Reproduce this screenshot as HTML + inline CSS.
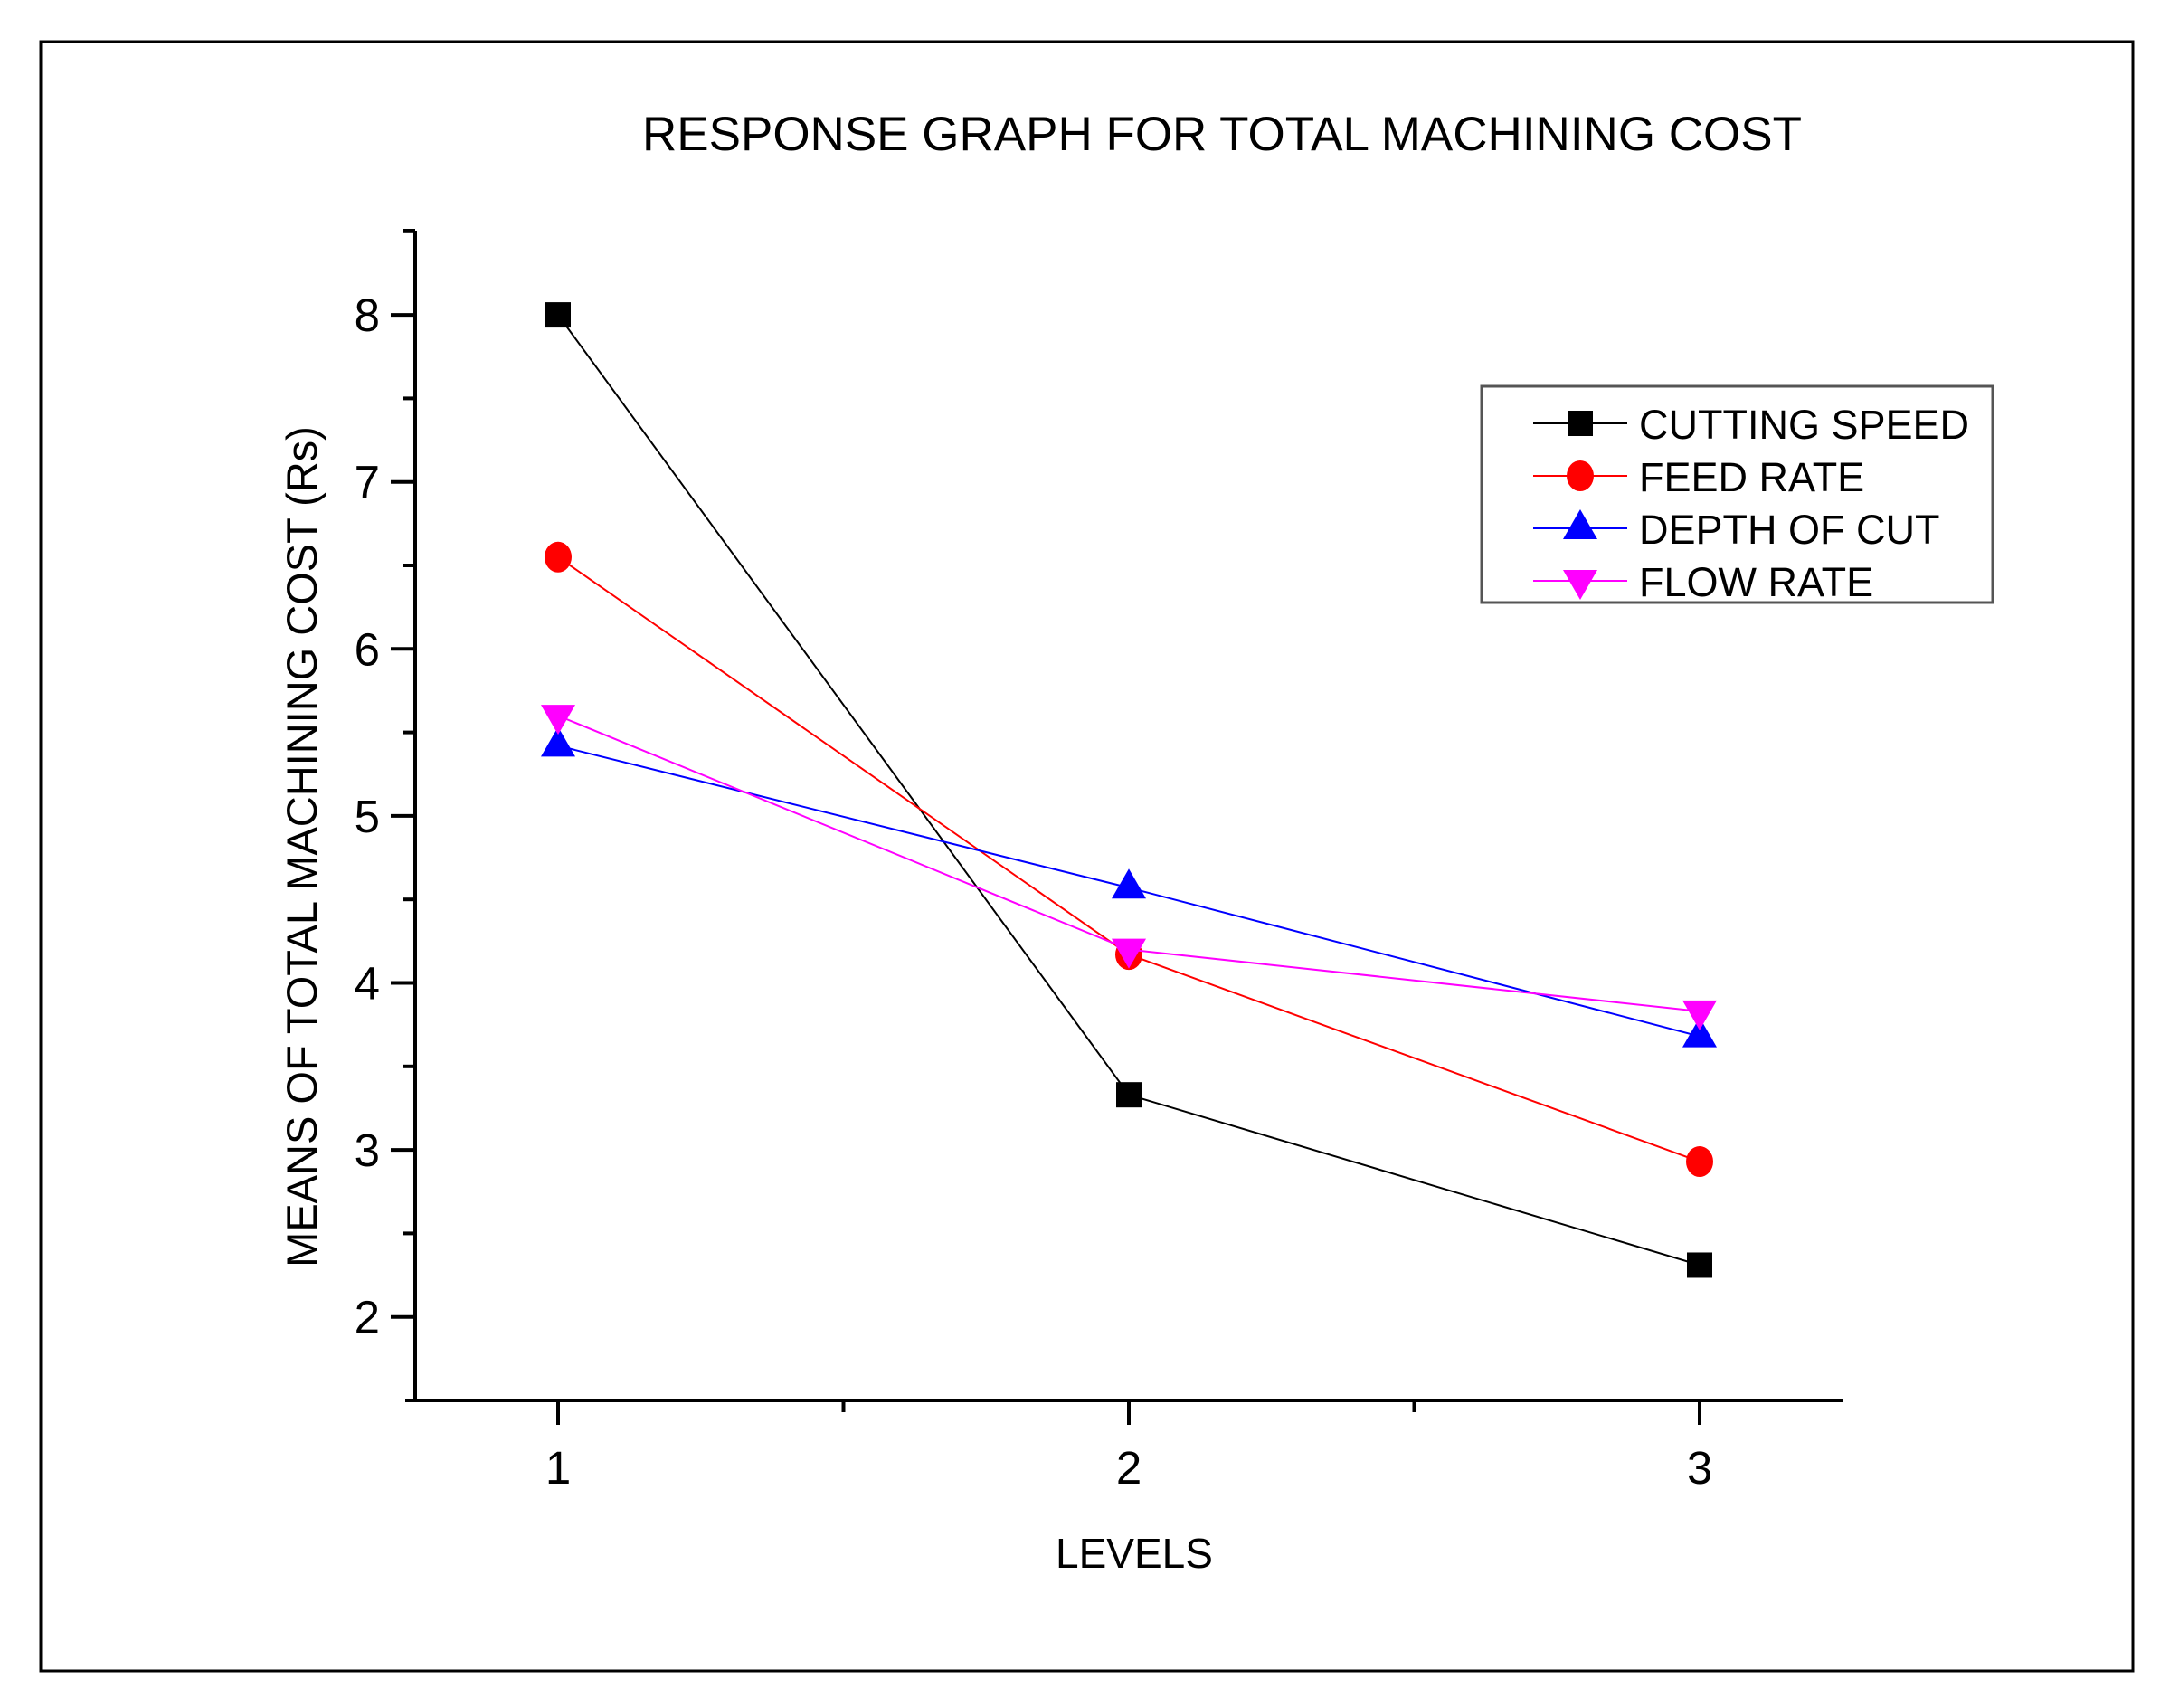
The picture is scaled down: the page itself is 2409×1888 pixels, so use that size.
<!DOCTYPE html>
<html><head><meta charset="utf-8"><style>
html,body{margin:0;padding:0;background:#fff;}
svg{display:block;font-family:"Liberation Sans",Arial,sans-serif;}
</style></head><body>
<svg id="chart" width="2409" height="1888" viewBox="0 0 2409 1888" xmlns="http://www.w3.org/2000/svg">
<rect x="45" y="46" width="2313" height="1801" fill="#fff" stroke="#000" stroke-width="3"/>
<text x="1351" y="166" font-size="53" text-anchor="middle">RESPONSE GRAPH FOR TOTAL MACHINING COST</text>
<g id="axes"></g>
<g id="series"></g>
<g id="legend"></g>
</svg>
<script>
const categories = [1, 2, 3];
const yTicks = [2, 3, 4, 5, 6, 7, 8];
const seriesNames = ["CUTTING SPEED", "FEED RATE", "DEPTH OF CUT", "FLOW RATE"];
const cuttingSpeed = [8.0, 3.33, 2.31];
const feedRate = [6.55, 4.17, 2.93];
const depthOfCut = [5.42, 4.57, 3.68];
const flowRate = [5.60, 4.20, 3.83];

const NS = "http://www.w3.org/2000/svg";
const X0 = 459, X1 = 2037, Y0 = 1548, YT = 255;
function xs(v){ return 617 + (v - 1) * 631; }
function ys(v){ return 1548 - (v - 1.5) * 184.6; }
function mk(tag, attrs, parent){ const e = document.createElementNS(NS, tag); for (const k in attrs) e.setAttribute(k, attrs[k]); parent.appendChild(e); return e; }

const axes = document.getElementById('axes');
let yAxis = mk('line', {x1:X0, y1:YT, x2:X0, y2:Y0+2, stroke:'#000','stroke-width':4}, axes);


let xAxis = mk('line', {x1:448, y1:Y0, x2:X1, y2:Y0, stroke:'#000','stroke-width':4}, axes);


mk('line', {x1:X0-13, y1:YT, x2:X0, y2:YT, stroke:'#000','stroke-width':4}, axes);
for (let v = 1.5; v <= 8.5; v += 0.5) {
  if (v === 1.5) continue;
  const major = Number.isInteger(v);
  const t = mk('line', {x1:X0-(major?27:13), y1:ys(v), x2:X0, y2:ys(v), stroke:'#000','stroke-width':4}, axes);
  
  
}
yTicks.forEach(v => {
  const t = mk('text', {x:420, y:ys(v)+18, 'font-size':51, 'text-anchor':'end'}, axes);
  t.textContent = v;
  
  
});
[1, 1.5, 2, 2.5, 3].forEach(v => {
  const major = Number.isInteger(v);
  const t = mk('line', {x1:xs(v), y1:Y0, x2:xs(v), y2:Y0+(major?27:13), stroke:'#000','stroke-width':4}, axes);
  
  
});
categories.forEach(c => {
  const t = mk('text', {x:xs(c), y:1640, 'font-size':51, 'text-anchor':'middle'}, axes);
  t.textContent = c;
  
  
});
let xt = mk('text', {x:1254, y:1733, 'font-size':46, 'text-anchor':'middle'}, axes);
xt.textContent = 'LEVELS';


let yt = mk('text', {x:0, y:0, 'font-size':47, 'text-anchor':'middle', transform:'translate(350,936) rotate(-90)'}, axes);
yt.textContent = 'MEANS OF TOTAL MACHINING COST (Rs)';



const colors = ['#000', '#ff0000', '#0000ff', '#ff00ff'];
const shapes = ['square', 'circle', 'up', 'down'];
const allSeries = [cuttingSpeed, feedRate, depthOfCut, flowRate];
function marker(shape, x, y, color, parent){
  let e;
  if (shape === 'square') e = mk('rect', {x:x-14, y:y-14, width:28, height:28, fill:color}, parent);
  else if (shape === 'circle') e = mk('ellipse', {cx:x, cy:y, rx:15, ry:17, fill:color}, parent);
  else if (shape === 'up') e = mk('polygon', {points:`${x},${y-21} ${x-19},${y+12} ${x+19},${y+12}`, fill:color}, parent);
  else e = mk('polygon', {points:`${x-19},${y-12} ${x+19},${y-12} ${x},${y+21}`, fill:color}, parent);
  return e;
}
const sg = document.getElementById('series');
allSeries.forEach((vals, i) => {
  const g = mk('g', {}, sg);
  
  
  const pl = mk('polyline', {points: vals.map((v, j) => xs(categories[j]) + ',' + ys(v)).join(' '), fill:'none', stroke:colors[i], 'stroke-width':2}, g);
  
  
  vals.forEach((v, j) => {
    const m = marker(shapes[i], xs(categories[j]), ys(v), colors[i], g);
    
    
  });
});

const lg = document.getElementById('legend');
let lb = mk('rect', {x:1638, y:427, width:565, height:239, fill:'#fff', stroke:'#555', 'stroke-width':3}, lg);


const legendY = [468, 526, 584, 642];
seriesNames.forEach((n, i) => {
  const g = mk('g', {}, lg);
  
  
  mk('line', {x1:1695, y1:legendY[i], x2:1799, y2:legendY[i], stroke:colors[i], 'stroke-width':2}, g);
  marker(shapes[i], 1747, legendY[i], colors[i], g);
  const t = mk('text', {x:1812, y:legendY[i]+17, 'font-size':45}, g);
  t.textContent = n;
});
</script>
</body></html>
